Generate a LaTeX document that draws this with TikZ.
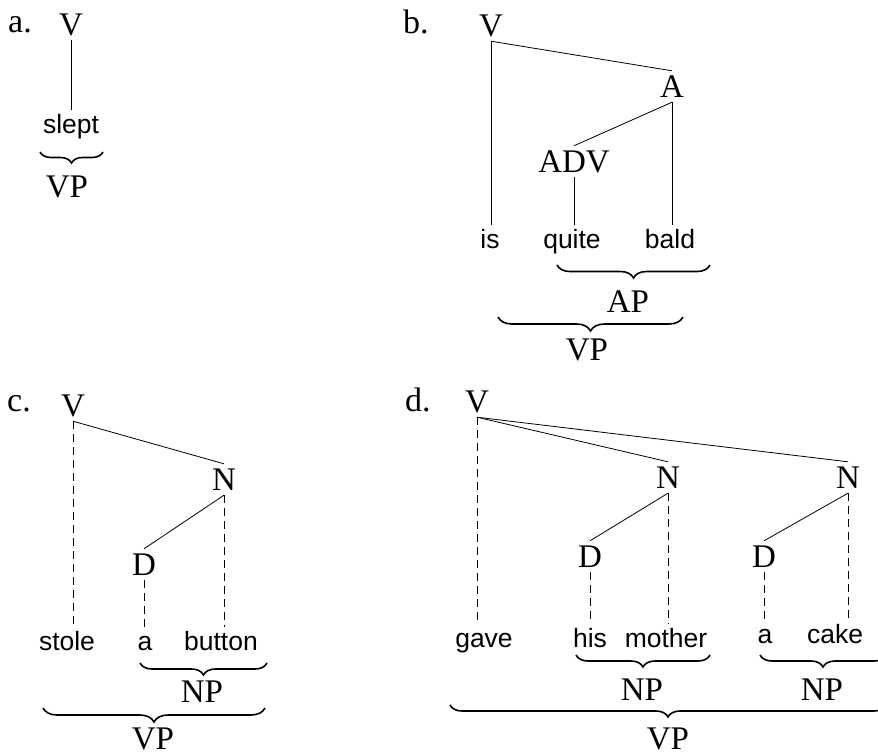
\documentclass[tikz,border=0pt]{standalone}
\usepackage{fontspec}
\setmainfont{Liberation Serif}
\newfontfamily\wordfont{Liberation Sans}
\usetikzlibrary{decorations.pathreplacing}
\begin{document}
\begin{tikzpicture}[x=1pt,y=-1pt,
 cat/.style={anchor=base, inner sep=0pt, font=\fontsize{33}{38}\selectfont, text height=26pt, text depth=5pt},
 catlow/.style={anchor=base, inner sep=0pt, font=\fontsize{33}{38}\selectfont, text height=26pt, text depth=0pt},
 word/.style={anchor=base, inner sep=0pt, font=\wordfont\fontsize{26.5}{30}\selectfont, text height=23pt, text depth=6pt},
 lbl/.style={anchor=base west, inner sep=0pt, font=\fontsize{34}{38}\selectfont},
 edge/.style={line width=0.8pt},
 dedge/.style={line width=0.8pt, dash pattern=on 8pt off 5pt},
 brc/.style={decorate, decoration={brace, mirror, amplitude=#1}, line width=1.6pt}
]
\useasboundingbox (0,0) rectangle (878,755);

% ---- a ----
\node[lbl] (la) at (8,32) {a.};
\node[cat] (aV) at (71,35) {V};
\node[word] (aslept) at (71,133) {slept};
\draw[edge] (aV.south) -- (aslept.north);
\coordinate (ab1) at (40,152); \coordinate (ab2) at (103,152);
\draw[brc=11pt] (ab1) -- (ab2);
\node[cat] (aVP) at (67,197) {VP};

% ---- b ----
\node[lbl] (lb) at (403,33) {b.};
\node[cat] (bV) at (491,36) {V};
\node[cat] (bA) at (672,97) {A};
\node[cat] (bADV) at (574,172) {ADV};
\node[word] (bis) at (490,248) {is};
\node[word] (bquite) at (572,248) {quite};
\node[word] (bbald) at (670,248) {bald};
\draw[edge] (bV.south) -- (bA.north);
\draw[edge] (bV.south) -- (bV.south |- bis.north);
\draw[edge] (bA.south) -- (bADV.north);
\draw[edge] (bA.south) -- (bA.south |- bbald.north);
\draw[edge] (bADV.south) -- (bADV.south |- bquite.north);
\coordinate (bb1) at (557,265); \coordinate (bb2) at (710,265);
\draw[brc=13pt] (bb1) -- (bb2);
\node[cat] (bAP) at (628,312) {AP};
\coordinate (bb3) at (498,317); \coordinate (bb4) at (683,317);
\draw[brc=14pt] (bb3) -- (bb4);
\node[cat] (bVP) at (587,360) {VP};

% ---- c ----
\node[lbl] (lc) at (7,411) {c.};
\node[cat] (cV) at (73,416) {V};
\node[cat] (cN) at (224,490) {N};
\node[cat] (cD) at (144,575) {D};
\node[word] (cstole) at (67,650) {stole};
\node[word] (ca) at (145,650) {a};
\node[word] (cbutton) at (221,650) {button};
\draw[edge] (cV.south) -- (cN.north);
\draw[dedge] (cV.south) -- (cV.south |- cstole.north);
\draw[edge] (cN.south) -- (cD.north);
\draw[dedge] (cN.south) -- (cN.south |- cbutton.north);
\draw[dedge] (cD.south) -- (cD.south |- ca.north);
\coordinate (cb1) at (140,663); \coordinate (cb2) at (267,663);
\draw[brc=12pt] (cb1) -- (cb2);
\node[cat] (cNP) at (202,702) {NP};
\coordinate (cb3) at (43,708); \coordinate (cb4) at (265,708);
\draw[brc=14pt] (cb3) -- (cb4);
\node[catlow] (cVP) at (153,749) {VP};

% ---- d ----
\node[lbl] (ld) at (405,411) {d.};
\node[cat] (dV) at (477,412) {V};
\node[cat] (dN1) at (668,488) {N};
\node[cat] (dN2) at (848,488) {N};
\node[cat] (dD1) at (590,567) {D};
\node[cat] (dD2) at (764,567) {D};
\node[word] (dgave) at (484,647) {gave};
\node[word] (dhis) at (590,647) {his};
\node[word] (dmother) at (666,647) {mother};
\node[word] (da) at (765,643) {a};
\node[word] (dcake) at (835,643) {cake};
\draw[edge] (dV.south) -- (dN1.north);
\draw[edge] (dV.south) -- (dN2.north);
\draw[dedge] (dV.south) -- (dV.south |- dgave.north);
\draw[edge] (dN1.south) -- (dD1.north);
\draw[dedge] (dN1.south) -- (dN1.south |- dmother.north);
\draw[dedge] (dD1.south) -- (dD1.south |- dhis.north);
\draw[edge] (dN2.south) -- (dD2.north);
\draw[dedge] (dN2.south) -- (dN2.south |- dcake.north);
\draw[dedge] (dD2.south) -- (dD2.south |- da.north);
\coordinate (db1) at (576,655); \coordinate (db2) at (710,655);
\draw[brc=12pt] (db1) -- (db2);
\node[cat] (dNP1) at (642,700) {NP};
\coordinate (db3) at (760,655); \coordinate (db4) at (886,655);
\draw[brc=12pt] (db3) -- (db4);
\node[cat] (dNP2) at (822,700) {NP};
\coordinate (db5) at (450,705); \coordinate (db6) at (886,705);
\draw[brc=12pt] (db5) -- (db6);
\node[catlow] (dVP) at (668,749) {VP};
\end{tikzpicture}
\end{document}
